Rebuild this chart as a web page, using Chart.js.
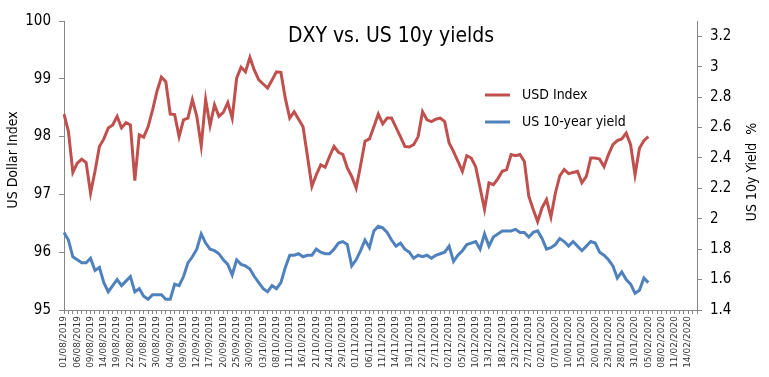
<!DOCTYPE html>
<html>
<head>
<meta charset="utf-8">
<script src="https://cdn.jsdelivr.net/npm/chart.js@4.4.1/dist/chart.umd.min.js"></script>
<style>
  body { margin: 0; background: #fff; }
  #wrap { width: 769px; height: 377px; }
</style>
</head>
<body>
<div id="wrap"><canvas id="dxyChart" width="769" height="377"></canvas></div>
<script>
// labels shown under every third trading day
const tickLabels = [
  "01/08/2019", "06/08/2019", "09/08/2019", "14/08/2019", "19/08/2019", "22/08/2019",
  "27/08/2019", "30/08/2019", "04/09/2019", "09/09/2019", "12/09/2019", "17/09/2019",
  "20/09/2019", "25/09/2019", "30/09/2019", "03/10/2019", "08/10/2019", "11/10/2019",
  "16/10/2019", "21/10/2019", "24/10/2019", "29/10/2019", "01/11/2019", "06/11/2019",
  "11/11/2019", "14/11/2019", "19/11/2019", "22/11/2019", "27/11/2019", "02/12/2019",
  "05/12/2019", "10/12/2019", "13/12/2019", "18/12/2019", "23/12/2019", "27/12/2019",
  "02/01/2020", "07/01/2020", "10/01/2020", "15/01/2020", "20/01/2020", "23/01/2020",
  "28/01/2020", "31/01/2020", "05/02/2020", "08/02/2020", "11/02/2020", "14/02/2020",
];

const yieldTicks = [1.4, 1.6, 1.8, 2, 2.2, 2.4, 2.6, 2.8, 3, 3.2];

const usdIndex = [
  98.39, 98.09, 97.38, 97.54, 97.61, 97.55, 97.02, 97.40, 97.83, 97.96,
  98.15, 98.20, 98.35, 98.15, 98.24, 98.20, 97.24, 98.03, 97.99, 98.17,
  98.46, 98.78, 99.03, 98.95, 98.39, 98.38, 98.00, 98.29, 98.32, 98.64,
  98.35, 97.84, 98.64, 98.19, 98.55, 98.35, 98.42, 98.59, 98.32, 99.01,
  99.20, 99.12, 99.37, 99.15, 98.98, 98.91, 98.84, 98.98, 99.12, 99.11,
  98.66, 98.32, 98.43, 98.30, 98.17, 97.66, 97.14, 97.34, 97.51, 97.47,
  97.66, 97.83, 97.73, 97.69, 97.46, 97.31, 97.11, 97.50, 97.92, 97.96,
  98.17, 98.39, 98.22, 98.32, 98.32, 98.16, 98.00, 97.83, 97.82, 97.86,
  98.00, 98.43, 98.29, 98.26, 98.30, 98.32, 98.26, 97.89, 97.74, 97.57,
  97.40, 97.67, 97.63, 97.48, 97.11, 96.74, 97.20, 97.17, 97.27, 97.40,
  97.43, 97.69, 97.67, 97.69, 97.57, 96.97, 96.74, 96.53, 96.77, 96.91,
  96.61, 97.02, 97.32, 97.43, 97.36, 97.38, 97.40, 97.20, 97.31, 97.63,
  97.63, 97.61, 97.48, 97.69, 97.86, 97.93, 97.96, 98.06, 97.86, 97.34,
  97.80, 97.93, 98.00,
];

const us10yYield = [
  1.91, 1.86, 1.75, 1.73, 1.71, 1.71, 1.74, 1.66, 1.68, 1.58,
  1.52, 1.56, 1.60, 1.56, 1.59, 1.62, 1.52, 1.54, 1.49, 1.47,
  1.50, 1.50, 1.50, 1.47, 1.47, 1.57, 1.56, 1.62, 1.71, 1.75,
  1.80, 1.90, 1.84, 1.80, 1.79, 1.77, 1.73, 1.70, 1.63, 1.73,
  1.70, 1.69, 1.67, 1.62, 1.58, 1.54, 1.52, 1.56, 1.54, 1.58,
  1.68, 1.76, 1.76, 1.77, 1.75, 1.76, 1.76, 1.80, 1.78, 1.77,
  1.77, 1.80, 1.84, 1.85, 1.83, 1.69, 1.73, 1.79, 1.86, 1.81,
  1.92, 1.95, 1.94, 1.91, 1.86, 1.82, 1.84, 1.80, 1.78, 1.74,
  1.76, 1.75, 1.76, 1.74, 1.76, 1.77, 1.78, 1.82, 1.72, 1.76,
  1.79, 1.83, 1.84, 1.85, 1.80, 1.90, 1.82, 1.88, 1.90, 1.92,
  1.92, 1.92, 1.93, 1.91, 1.91, 1.88, 1.91, 1.92, 1.87, 1.80,
  1.81, 1.83, 1.87, 1.85, 1.82, 1.85, 1.82, 1.79, 1.82, 1.85,
  1.84, 1.78, 1.76, 1.73, 1.69, 1.61, 1.65, 1.60, 1.57, 1.51,
  1.53, 1.61, 1.58,
];

// one category per trading day, a label on every third one
const labels = [];
tickLabels.forEach((t, i) => {
  labels.push(t);
  if (i < tickLabels.length - 1) {
    labels.push("", "");
  }
});
labels.push("", "");

const axisFont = "'Liberation Sans Narrow', 'DejaVu Sans Condensed', 'Roboto', sans-serif";
const axisGrey = "#868686";

// title, legend and right axis title are drawn on top by hand
const overlayPlugin = {
  id: "overlay",
  afterDraw(chart) {
    const ctx = chart.ctx;
    ctx.save();
    ctx.fillStyle = "#000";
    ctx.textAlign = "center";
    ctx.textBaseline = "alphabetic";
    ctx.font = "21px " + axisFont;
    ctx.fillText("DXY vs. US 10y yields", 391, 42);

    ctx.font = "14px " + axisFont;
    ctx.textBaseline = "middle";
    ctx.save();
    ctx.translate(13, 160);
    ctx.rotate(-Math.PI / 2);
    ctx.fillText("US Dollar Index", 0, 0);
    ctx.restore();
    ctx.save();
    ctx.translate(752, 172);
    ctx.rotate(-Math.PI / 2);
    ctx.fillText("US 10y Yield  %", 0, 0);
    ctx.restore();

    const rows = [95, 122];
    chart.data.datasets.forEach((ds, i) => {
      const y = rows[i];
      ctx.strokeStyle = ds.borderColor;
      ctx.lineWidth = 3;
      ctx.beginPath();
      ctx.moveTo(485, y);
      ctx.lineTo(510, y);
      ctx.stroke();
      ctx.textAlign = "left";
      ctx.fillText(ds.label, 522, y);
    });
    ctx.restore();
  },
};

new Chart(document.getElementById("dxyChart"), {
  type: "line",
  data: {
    labels: labels,
    datasets: [
      {
        label: "USD Index",
        data: usdIndex,
        borderColor: "#C0504D",
        borderWidth: 3,
        pointRadius: 0,
        tension: 0,
        yAxisID: "y",
      },
      {
        label: "US 10-year yield",
        data: us10yYield,
        borderColor: "#4F81BD",
        borderWidth: 3,
        pointRadius: 0,
        tension: 0,
        yAxisID: "y2",
      },
    ],
  },
  options: {
    responsive: false,
    animation: false,
    layout: { padding: { top: 21, right: 0, bottom: 0, left: 0 } },
    plugins: {
      legend: { display: false },
      tooltip: { enabled: false },
    },
    scales: {
      x: {
        offset: false,
        border: { color: axisGrey },
        grid: { drawOnChartArea: false, color: axisGrey, tickLength: 4 },
        ticks: {
          autoSkip: false,
          minRotation: 90,
          maxRotation: 90,
          padding: 2,
          color: "#333",
          font: { family: "'DejaVu Sans'", size: 9 },
        },
        afterFit(scale) {
          scale.height = 67;
        },
      },
      y: {
        position: "left",
        min: 95,
        max: 100,
        border: { color: axisGrey },
        grid: { drawOnChartArea: false, color: axisGrey, tickLength: 5 },
        ticks: {
          stepSize: 1,
          padding: 8,
          color: "#000",
          font: { family: axisFont, size: 15 },
        },
        afterFit(scale) {
          scale.width = 64;
        },
      },
      y2: {
        position: "right",
        min: 1.4,
        max: 3.3,
        border: { color: axisGrey },
        grid: { drawOnChartArea: false, color: axisGrey, tickLength: 5 },
        ticks: {
          padding: 8,
          color: "#000",
          font: { family: axisFont, size: 15 },
          callback: (v) => String(Math.round(v * 10) / 10),
        },
        afterBuildTicks(scale) {
          scale.ticks = yieldTicks.map((v) => ({ value: v }));
        },
        afterFit(scale) {
          scale.width = 72;
        },
      },
    },
  },
  plugins: [overlayPlugin],
});
</script>
</body>
</html>
